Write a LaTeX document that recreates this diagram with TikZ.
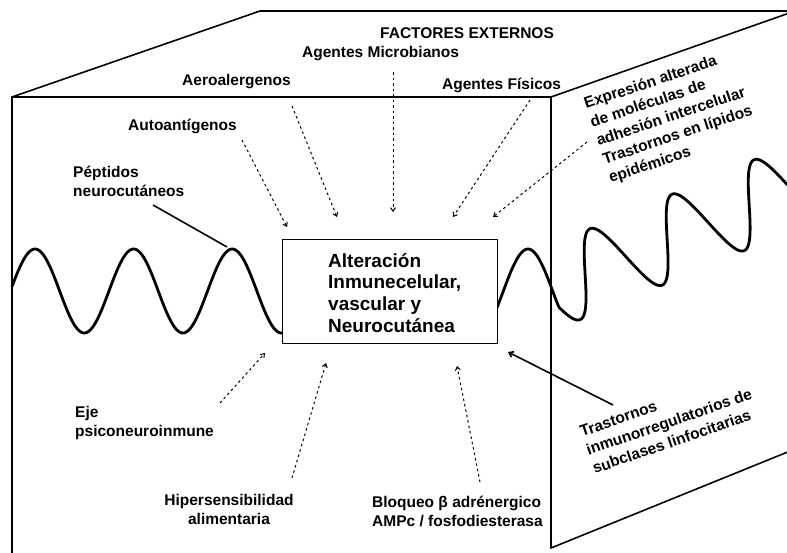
\documentclass[tikz,border=0pt]{standalone}
\usepackage{fontspec}
\setmainfont{Liberation Sans}
\usetikzlibrary{arrows.meta}
\begin{document}
\begin{tikzpicture}[x=1pt,y=-1pt,
  cubeline/.style={line width=1.6pt, line cap=round},
  wavy/.style={line width=2.8pt, line join=round, line cap=round},
  lbl/.style={inner sep=0pt, font=\fontsize{15.5}{19.5}\selectfont\bfseries},
  dotarrow/.style={line width=1pt, dash pattern=on 2.5pt off 3pt, -{Straight Barb[length=3.5pt,width=5pt]}},
  solidline/.style={line width=1.6pt},
  solidarrow/.style={line width=1.6pt, -{Straight Barb[length=4pt,width=6pt]}}
]
\useasboundingbox (0,0) rectangle (787,552);
\clip (0,0) rectangle (787,552);
% cube
\coordinate (ftl) at (12,97);
\coordinate (ftr) at (551,97);
\coordinate (fbl) at (12,560);
\coordinate (fbr) at (551,548);
\coordinate (btl) at (260,11);
\coordinate (btr) at (795,11);
\coordinate (bbr) at (800,447);
\draw[cubeline] (fbl) -- (ftl) -- (ftr) -- (fbr);
\draw[cubeline] (ftl) -- (btl) -- (btr);
\draw[cubeline] (ftr) -- (btr);
\draw[cubeline] (fbr) -- (bbr);
% wave
\draw[wavy] plot[domain=12:558.5, samples=300] (\x, {291-42*sin((\x-35)/98.6*360+90)});
\begin{scope}[shift={(551,288.5)}, rotate=22.8]
\draw[wavy] plot[domain=0:285, samples=300] (\x, {-40*sin((\x-37)/89*360)});
\end{scope}
% central box
\node[draw, fill=white, line width=1.2pt, minimum width=215, minimum height=104, inner sep=0pt, anchor=north west] (box) at (282,239) {};
\node[anchor=base west, inner sep=0pt, font=\fontsize{19}{21.7}\selectfont\bfseries] (boxtxt) at (328,267)
  {\begin{tabular}[t]{@{}l@{}}Alteración\\Inmunecelular,\\vascular y\\Neurocutánea\end{tabular}};
% labels
\node[lbl, anchor=base west] (fe) at (380,38) {FACTORES EXTERNOS};
\node[lbl, anchor=base west] (am) at (302,57) {Agentes Microbianos};
\node[lbl, anchor=base west] (aer) at (182,85) {Aeroalergenos};
\node[lbl, anchor=base west] (af) at (442,89) {Agentes Físicos};
\node[lbl, anchor=base west] (aut) at (128,130) {Autoantígenos};
\node[lbl, anchor=base west] (pep) at (73,177) {\begin{tabular}[t]{@{}l@{}}Péptidos\\neurocutáneos\end{tabular}};
\node[lbl, anchor=base west] (eje) at (75,417) {\begin{tabular}[t]{@{}l@{}}Eje\\psiconeuroinmune\end{tabular}};
\node[lbl, anchor=base] (hip) at (229,505) {\begin{tabular}[t]{@{}c@{}}Hipersensibilidad\\alimentaria\end{tabular}};
\node[lbl, anchor=base west] (blo) at (372,507) {\begin{tabular}[t]{@{}l@{}}Bloqueo β adrénergico\\AMPc / fosfodiesterasa\end{tabular}};
\node[lbl, anchor=base west, rotate=18.5] (expr) at (586,109) {\begin{tabular}[t]{@{}l@{}}Expresión alterada\\de moléculas de\\adhesión intercelular\\Trastornos en lípidos\\epidémicos\end{tabular}};
\node[lbl, anchor=base west, rotate=19] (tra) at (582,437) {\begin{tabular}[t]{@{}l@{}}Trastornos\\inmunorregulatorios de\\subclases linfocitarias\end{tabular}};
% connector ends
\coordinate (aerS) at (292,106); \coordinate (aerE) at (337,217);
\coordinate (autS) at (242,140); \coordinate (autE) at (287,227);
\coordinate (micS) at (393,72);  \coordinate (micE) at (393,212);
\coordinate (fisS) at (530,100); \coordinate (fisE) at (453,217);
\coordinate (expS) at (587,142); \coordinate (expE) at (493,217);
\coordinate (pepS) at (153,205); \coordinate (pepE) at (227,247);
\coordinate (ejeS) at (220,403); \coordinate (ejeE) at (265,353);
\coordinate (hipS) at (292,478); \coordinate (hipE) at (326,363);
\coordinate (bloS) at (480,482); \coordinate (bloE) at (457,366);
\coordinate (traS) at (613,405); \coordinate (traE) at (508,352);
\draw[dotarrow] (aerS) -- (aerE);
\draw[dotarrow] (autS) -- (autE);
\draw[dotarrow] (micS) -- (micE);
\draw[dotarrow] (fisS) -- (fisE);
\draw[dotarrow] (expS) -- (expE);
\draw[solidline] (pepS) -- (pepE);
\draw[dotarrow] (ejeS) -- (ejeE);
\draw[dotarrow] (hipS) -- (hipE);
\draw[dotarrow] (bloS) -- (bloE);
\draw[solidarrow] (traS) -- (traE);
\end{tikzpicture}
\end{document}
